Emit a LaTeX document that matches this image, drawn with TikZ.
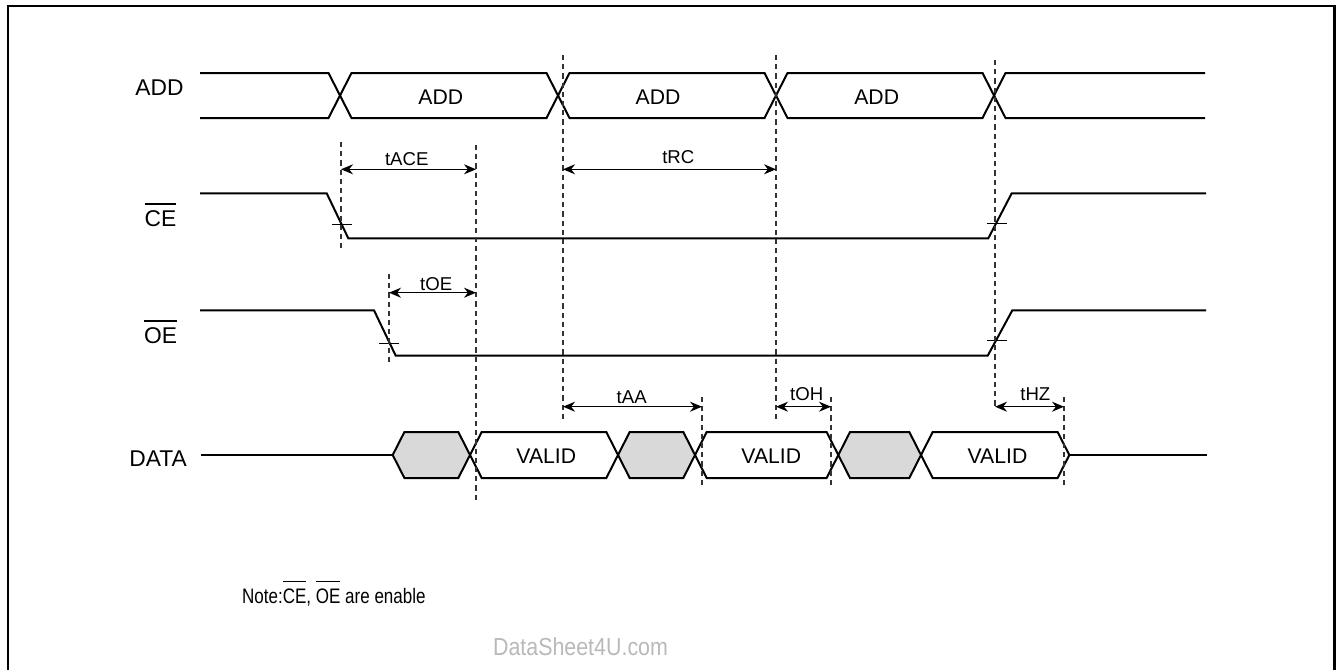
\documentclass[tikz,border=0pt]{standalone}
\usepackage{fontspec}
\setmainfont{Liberation Sans}
\usetikzlibrary{arrows.meta}
\definecolor{gry}{RGB}{217,217,217}
\definecolor{wmark}{RGB}{185,185,185}
\newcommand{\olbar}[1]{\leavevmode\vbox{\hrule height 0.6pt\kern 3.1pt\hbox{#1}}}
\begin{document}
\begin{tikzpicture}[x=0.5pt,y=-0.5pt,
  sig/.style={line width=1pt},
  tickmark/.style={line width=0.7pt},
  guide/.style={line width=0.75pt,black!80,dash pattern=on 2.6pt off 2pt},
  dim/.style={line width=0.7pt,{Stealth[length=6pt,width=5pt]}-{Stealth[length=6pt,width=5pt]}},
  siglbl/.style={font=\fontsize{11.4}{13}\selectfont,anchor=base,inner sep=0},
  buslbl/.style={font=\fontsize{10.6}{12}\selectfont,anchor=base,inner sep=0},
  tlbl/.style={font=\fontsize{9.3}{10}\selectfont,anchor=base,inner sep=0},
  frameline/.style={line width=1.1pt}]
\useasboundingbox (0,0) rectangle (1336,669);
% frame (open at the bottom)
\draw[frameline] (8,672) -- (8,6) -- (1334.5,6) -- (1334.5,672);

% ---------- ADD bus ----------
\def\h{11.5}
\draw[sig] (200,73) -- (340-\h,73) -- (340,95.5) -- (340-\h,118) -- (200,118);
\foreach \a/\b in {340/558,558/776,776/994}
  \draw[sig] (\a,95.5) -- (\a+\h,73) -- (\b-\h,73) -- (\b,95.5) -- (\b-\h,118) -- (\a+\h,118) -- cycle;
\draw[sig] (1205,73) -- (994+\h,73) -- (994,95.5) -- (994+\h,118) -- (1205,118);

% ---------- CE ----------
\draw[sig] (200,193.3) -- (326.7,193.3) -- (348.3,238.3) -- (988.3,238.3) -- (1011.7,193.3) -- (1206,193.3);
\draw[tickmark] (332,224.3) -- (352,224.3);
\draw[tickmark] (986.7,223.3) -- (1006.7,223.3);

% ---------- OE ----------
\draw[sig] (200,310.3) -- (374,310.3) -- (395.7,355.7) -- (987.7,355.7) -- (1012.3,310.3) -- (1206,310.3);
\draw[tickmark] (379,343.3) -- (399,343.3);
\draw[tickmark] (986.7,340.7) -- (1006.7,340.7);

% ---------- DATA ----------
\def\d{11.7}
\draw[sig] (201,455) -- (392.7,455);
\foreach \a/\b/\f in {392.7/470/gry,470/618/white,618/695/gry,695/838.3/white,838.3/921/gry,921/1069.3/white}
  \draw[sig,fill=\f] (\a,455) -- (\a+\d,432) -- (\b-\d,432) -- (\b,455) -- (\b-\d,478) -- (\a+\d,478) -- cycle;
\draw[sig] (1069.3,455) -- (1207,455);

% ---------- guide lines ----------
\draw[guide] (341,142) -- (341,250);
\draw[guide] (476,145) -- (476,500);
\draw[guide] (563,55) -- (563,422);
\draw[guide] (776,55) -- (776,422);
\draw[guide] (995,60) -- (995,408);
\draw[guide] (389,274) -- (389,362);
\draw[guide] (702,397) -- (702,485);
\draw[guide] (831,397) -- (831,485);
\draw[guide] (1064,397) -- (1064,485);

% ---------- timing arrows ----------
\coordinate (aceL) at (341,169.3);  \coordinate (aceR) at (476,169.3);
\coordinate (rcL)  at (563,169.3);  \coordinate (rcR)  at (776,169.3);
\coordinate (oeL)  at (389,292.7);  \coordinate (oeR)  at (476,292.7);
\coordinate (aaL)  at (563,406.7);  \coordinate (aaR)  at (702,406.7);
\coordinate (ohL)  at (776,406.7);  \coordinate (ohR)  at (831,406.7);
\coordinate (hzL)  at (995,406.7);  \coordinate (hzR)  at (1064,406.7);
\draw[dim] (aceL) -- (aceR);
\draw[dim] (rcL) -- (rcR);
\draw[dim] (oeL) -- (oeR);
\draw[dim] (aaL) -- (aaR);
\draw[dim] (ohL) -- (ohR);
\draw[dim] (hzL) -- (hzR);

\node[tlbl] (tace) at (406.7,165) {tACE};
\node[tlbl] (trc)  at (678.3,163.3) {tRC};
\node[tlbl] (toe)  at (436.2,290.7) {tOE};
\node[tlbl] (taa)  at (631.7,403.3) {tAA};
\node[tlbl] (toh)  at (806.7,400) {tOH};
\node[tlbl] (thz)  at (1035.3,400) {tHZ};

% ---------- signal names ----------
\node[siglbl] (nADD)  at (159.5,95) {ADD};
\node[siglbl] (nCE)   at (160.5,226.7) {\olbar{CE}};
\node[siglbl] (nOE)   at (160.5,343.7) {\olbar{OE}};
\node[siglbl] (nDATA) at (158,466.7) {DATA};

% ---------- bus contents ----------
\node[buslbl] (a1) at (440.8,104) {ADD};
\node[buslbl] (a2) at (658,104) {ADD};
\node[buslbl] (a3) at (876.7,104) {ADD};
\node[buslbl] (v1) at (546.3,463.3) {VALID};
\node[buslbl] (v2) at (771.3,463.3) {VALID};
\node[buslbl] (v3) at (997.5,463.3) {VALID};

% ---------- notes ----------
\node[anchor=base east,inner sep=0,font=\fontsize{10.5}{12}\selectfont] (note) at (426,603.3)
  {\scalebox{0.81}[1]{Note:\olbar{CE}, \olbar{OE} are enable}};
\node[anchor=base,inner sep=0,font=\fontsize{12.3}{14}\selectfont,text=wmark] (wm) at (580.5,655)
  {\scalebox{0.87}[1]{DataSheet4U.com}};
\end{tikzpicture}
\end{document}
